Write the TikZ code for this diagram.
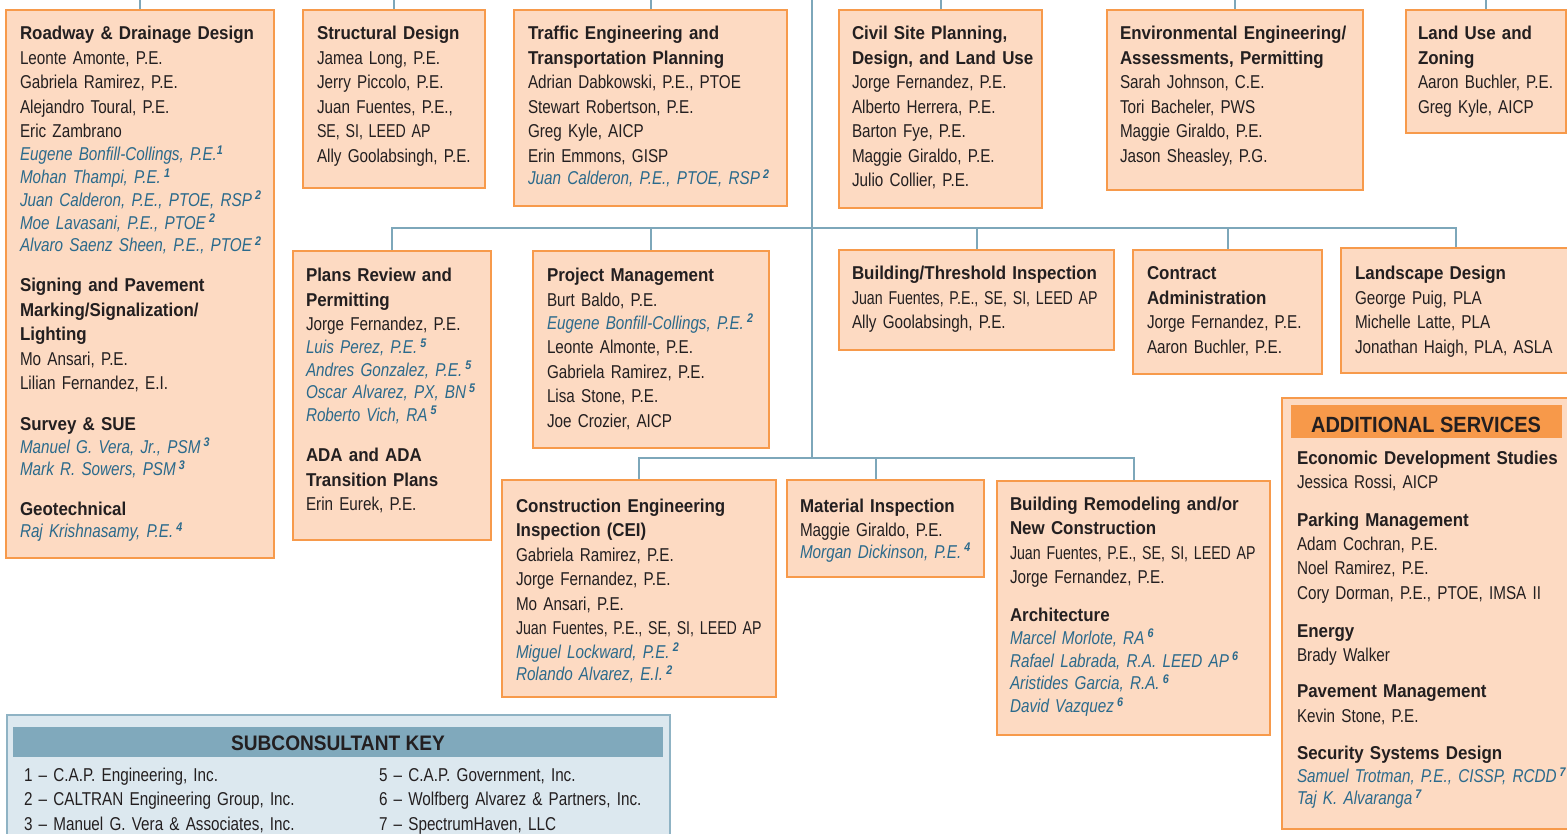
\documentclass[tikz,border=0pt]{standalone}
\usepackage{fontspec}
\setmainfont{Liberation Sans}[
  UprightFeatures={FakeStretch=0.82},
  BoldFeatures={FakeStretch=0.91},
  ItalicFeatures={FakeStretch=0.82},
  BoldItalicFeatures={FakeStretch=0.86}]
\usetikzlibrary{backgrounds}
\definecolor{peach}{HTML}{FDDAC2}
\definecolor{orng}{HTML}{F79A4B}
\definecolor{conncol}{HTML}{7DA7BA}
\definecolor{bluetxt}{HTML}{2B6A8C}
\definecolor{dark}{HTML}{231F20}
\definecolor{keyfill}{HTML}{DCE8EF}
\definecolor{keyline}{HTML}{8FB3C4}
\definecolor{keyhead}{HTML}{80A9BC}
\definecolor{addhead}{HTML}{F7994A}
\newcommand\bn[1]{{\color{bluetxt}\itshape #1}}
\newcommand\fnm[1]{\raisebox{6.5pt}{\fontsize{12.5}{12.5}\selectfont\bfseries\itshape\color{bluetxt}#1}}
\newcommand\hd[1]{{\bfseries #1}}
\newcommand\sq[1]{\scalebox{0.93}[1]{#1}}
\tikzset{
  box/.style={rectangle, draw=orng, fill=peach, line width=2.2pt, inner sep=0pt, outer sep=0pt, anchor=north west},
  txt/.style={anchor=north west, inner sep=0pt, outer sep=0pt, text width=320pt, align=left, text=dark, font={\fontsize{18.6}{24.5}\selectfont}},
  conn/.style={draw=conncol, line width=2pt},
}
\begin{document}
\begin{tikzpicture}[x=1pt,y=-1pt]
\useasboundingbox (0,0) rectangle (1567,834);
% boxes
\node[box, minimum width=268pt, minimum height=548pt] (road) at (6,10) {};
\node[box, minimum width=182pt, minimum height=178pt] (struct) at (303,10) {};
\node[box, minimum width=273pt, minimum height=196pt] (traffic) at (514,10) {};
\node[box, minimum width=203pt, minimum height=198pt] (civil) at (839,10) {};
\node[box, minimum width=256pt, minimum height=180pt] (env) at (1107,10) {};
\node[box, minimum width=160pt, minimum height=123pt] (land) at (1406,10) {};
\node[box, minimum width=198pt, minimum height=289pt] (plans) at (293,251) {};
\node[box, minimum width=236pt, minimum height=197pt] (pm) at (533,251) {};
\node[box, minimum width=275pt, minimum height=100pt] (bt) at (839,250) {};
\node[box, minimum width=189pt, minimum height=124pt] (contract) at (1133,250) {};
\node[box, minimum width=229pt, minimum height=125pt] (landscape) at (1341,248) {};
\node[box, minimum width=274pt, minimum height=217pt] (cei) at (502,480) {};
\node[box, minimum width=197pt, minimum height=97pt] (mat) at (787,480) {};
\node[box, minimum width=273pt, minimum height=254pt] (brc) at (997,481) {};
\node[box, minimum width=293pt, minimum height=431pt] (addl) at (1282,398) {};
\node[rectangle, fill=addhead, inner sep=0pt, anchor=north west, minimum width=271pt, minimum height=33pt] (addhd) at (1291,405) {};
\node[rectangle, draw=keyline, fill=keyfill, line width=2pt, inner sep=0pt, anchor=north west, minimum width=663pt, minimum height=131pt] (key) at (6,714) {};
\node[rectangle, fill=keyhead, inner sep=0pt, anchor=north west, minimum width=650pt, minimum height=30pt] (keyhd) at (13,727) {};
% connectors
\coordinate (top) at (812,0);
\coordinate (h2) at (812,228);
\coordinate (h3) at (812,458);
\coordinate (m3) at (876,458);
\begin{scope}[on background layer]
\fill[white] (0,0) rectangle (1567,834);
\foreach \n in {road,struct,traffic,civil,env,land}
  \draw[conn] (\n.north) -- (\n.north |- top);
\draw[conn] (top) -- (h3);
\draw[conn] (plans.north) |- (landscape.north |- h2) -- (landscape.north);
\foreach \n in {pm,bt,contract}
  \draw[conn] (\n.north) -- (\n.north |- h2);
\draw[conn] (cei.north) |- (brc.north |- h3) -- (brc.north);
\draw[conn] (mat.north -| m3) -- (m3);
\end{scope}
% texts
\node[txt] (roadT) at (20,22.85) {\strut\hd{Roadway \& Drainage Design}\\
Leonte Amonte, P.E.\\
Gabriela Ramirez, P.E.\\
Alejandro Toural, P.E.\\
Eric Zambrano\\[-1.5pt]
\bn{Eugene Bonfill-Collings, P.E.}\fnm{1}\\[-1.8pt]
\bn{Mohan Thampi, P.E.}\,\fnm{1}\\[-1.8pt]
\bn{Juan Calderon, P.E., PTOE, RSP}\,\fnm{2}\\[-1.8pt]
\bn{Moe Lavasani, P.E., PTOE}\,\fnm{2}\\[-1.8pt]
\bn{Alvaro Saenz Sheen, P.E., PTOE}\,\fnm{2}\\[15.5pt]
\hd{Signing and Pavement}\\
\hd{Marking/Signalization/}\\
\hd{Lighting}\\
Mo Ansari, P.E.\\
Lilian Fernandez, E.I.\\[16pt]
\hd{Survey \& SUE}\\[-1.5pt]
\bn{Manuel G. Vera, Jr., PSM}\,\fnm{3}\\[-1.8pt]
\bn{Mark R. Sowers, PSM}\,\fnm{3}\\[15.5pt]
\hd{Geotechnical}\\[-2.5pt]
\bn{Raj Krishnasamy, P.E.}\,\fnm{4}};
\node[txt] (structT) at (317,22.85) {\strut\hd{Structural Design}\\
Jamea Long, P.E.\\
Jerry Piccolo, P.E.\\
Juan Fuentes, P.E.,\\
\sq{SE, SI, LEED AP}\\
Ally Goolabsingh, P.E.};
\node[txt] (trafficT) at (528,22.85) {\strut\hd{Traffic Engineering and}\\
\hd{Transportation Planning}\\
Adrian Dabkowski, P.E., PTOE\\
Stewart Robertson, P.E.\\
Greg Kyle, AICP\\
Erin Emmons, GISP\\[-2pt]
\bn{Juan Calderon, P.E., PTOE, RSP}\,\fnm{2}};
\node[txt] (civilT) at (852,22.85) {\strut\hd{Civil Site Planning,}\\
\hd{Design, and Land Use}\\
Jorge Fernandez, P.E.\\
Alberto Herrera, P.E.\\
Barton Fye, P.E.\\
Maggie Giraldo, P.E.\\
Julio Collier, P.E.};
\node[txt] (envT) at (1120,22.85) {\strut\hd{Environmental Engineering/}\\
\hd{Assessments, Permitting}\\
Sarah Johnson, C.E.\\
Tori Bacheler, PWS\\
Maggie Giraldo, P.E.\\
Jason Sheasley, P.G.};
\node[txt] (landT) at (1418,22.85) {\strut\hd{Land Use and}\\
\hd{Zoning}\\
Aaron Buchler, P.E.\\
Greg Kyle, AICP};
\node[txt] (plansT) at (306,264.85) {\strut\hd{Plans Review and}\\
\hd{Permitting}\\
Jorge Fernandez, P.E.\\[-1.5pt]
\bn{Luis Perez, P.E.}\,\fnm{5}\\[-2pt]
\bn{Andres Gonzalez, P.E.}\,\fnm{5}\\[-2pt]
\bn{Oscar Alvarez, PX, BN}\,\fnm{5}\\[-2pt]
\bn{Roberto Vich, RA}\,\fnm{5}\\[16pt]
\hd{ADA and ADA}\\
\hd{Transition Plans}\\
Erin Eurek, P.E.};
\node[txt] (pmT) at (547,264.85) {\strut\hd{Project Management}\\
Burt Baldo, P.E.\\[-1.5pt]
\bn{Eugene Bonfill-Collings, P.E.}\,\fnm{2}\\
Leonte Almonte, P.E.\\
Gabriela Ramirez, P.E.\\
Lisa Stone, P.E.\\
Joe Crozier, AICP};
\node[txt] (btT) at (852,262.85) {\strut\hd{Building/Threshold Inspection}\\
\sq{Juan Fuentes, P.E., SE, SI, LEED AP}\\
Ally Goolabsingh, P.E.};
\node[txt] (contractT) at (1147,262.85) {\strut\hd{Contract}\\
\hd{Administration}\\
Jorge Fernandez, P.E.\\
Aaron Buchler, P.E.};
\node[txt] (landscapeT) at (1355,262.85) {\strut\hd{Landscape Design}\\
George Puig, PLA\\
Michelle Latte, PLA\\
Jonathan Haigh, PLA, ASLA};
\node[txt] (ceiT) at (516,494.85) {\strut\hd{Construction Engineering}\\
\hd{Inspection (CEI)}\\
Gabriela Ramirez, P.E.\\
Jorge Fernandez, P.E.\\
Mo Ansari, P.E.\\
\sq{Juan Fuentes, P.E., SE, SI, LEED AP}\\[-1pt]
\bn{Miguel Lockward, P.E.}\,\fnm{2}\\[-2pt]
\bn{Rolando Alvarez, E.I.}\,\fnm{2}};
\node[txt] (matT) at (800,494.85) {\strut\hd{Material Inspection}\\
Maggie Giraldo, P.E.\\[-3pt]
\bn{Morgan Dickinson, P.E.}\,\fnm{4}};
\node[txt] (brcT) at (1010,492.85) {\strut\hd{Building Remodeling and/or}\\
\hd{New Construction}\\
\sq{Juan Fuentes, P.E., SE, SI, LEED AP}\\
Jorge Fernandez, P.E.\\[13.5pt]
\hd{Architecture}\\[-2pt]
\bn{Marcel Morlote, RA}\,\fnm{6}\\[-1.5pt]
\bn{Rafael Labrada, R.A. LEED AP}\,\fnm{6}\\[-2pt]
\bn{Aristides Garcia, R.A.}\,\fnm{6}\\[-1.5pt]
\bn{David Vazquez}\,\fnm{6}};
\node[anchor=base, inner sep=0pt, text=dark, font={\fontsize{22}{26}\selectfont\bfseries}] (addhdT) at (1426,432) {ADDITIONAL SERVICES};
\node[txt] (addlT) at (1297,446.85) {\strut\hd{Economic Development Studies}\\
Jessica Rossi, AICP\\[13.5pt]
\hd{Parking Management}\\[-1pt]
Adam Cochran, P.E.\\
Noel Ramirez, P.E.\\
Cory Dorman, P.E., PTOE, IMSA II\\[13.5pt]
\hd{Energy}\\
Brady Walker\\[12pt]
\hd{Pavement Management}\\
Kevin Stone, P.E.\\[13pt]
\hd{Security Systems Design}\\[-1.5pt]
\bn{Samuel Trotman, P.E., CISSP, RCDD}\,\fnm{7}\\[-2.5pt]
\bn{Taj K. Alvaranga}\,\fnm{7}};
\node[anchor=base, inner sep=0pt, text=dark, font={\fontsize{21}{25}\selectfont\bfseries}] (keyhdT) at (338,750) {SUBCONSULTANT KEY};
\node[txt] (key1) at (24,763.85) {\strut 1 – C.A.P. Engineering, Inc.\\
2 – CALTRAN Engineering Group, Inc.\\
3 – Manuel G. Vera \& Associates, Inc.};
\node[txt] (key2) at (379,763.85) {\strut 5 – C.A.P. Government, Inc.\\
6 – Wolfberg Alvarez \& Partners, Inc.\\
7 – SpectrumHaven, LLC};
\end{tikzpicture}
\end{document}
